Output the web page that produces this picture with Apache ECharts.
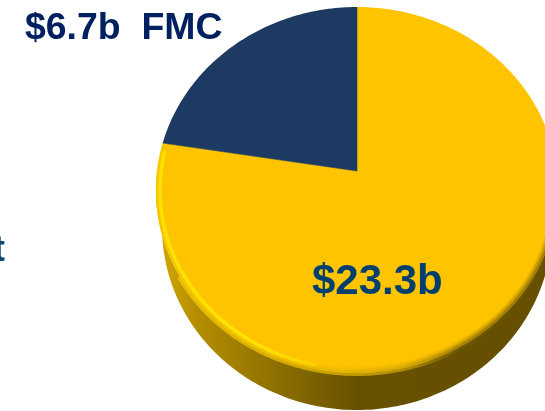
<!DOCTYPE html>
<html>
<head>
<meta charset="utf-8">
<style>
html, body { margin: 0; padding: 0; background: #fff; overflow: hidden; }
#main { width: 545px; height: 411px; }
</style>
<script src="https://cdn.jsdelivr.net/npm/echarts@6/dist/echarts.min.js"></script>
</head>
<body>
<div id="main"></div>
<script>
var categories = ['Other', 'FMC'];
var values = [23.3, 6.7];
var sliceLabels = ['$23.3b', '$6.7b  FMC'];
var clippedText = 't';

var total = values[0] + values[1];
var apex = [357, 171];
var centre = [357, 190];
var rx = 201, ry = 183, depth = 37, wallRx = 195, tilt = 0.85;

// where the ray from the off-centre apex meets the tilted rim
function rimPoint(deg, shrink) {
	var t = deg / 180 * Math.PI;
	var dx = Math.sin(t), dy = -Math.cos(t) * tilt;
	var px = apex[0] - centre[0], py = apex[1] - centre[1];
	var a = rx - shrink, b = ry - shrink;
	var A = dx * dx / (a * a) + dy * dy / (b * b);
	var B = 2 * (px * dx / (a * a) + py * dy / (b * b));
	var C = px * px / (a * a) + py * py / (b * b) - 1;
	var k = (-B + Math.sqrt(B * B - 4 * A * C)) / (2 * A);
	return [apex[0] + k * dx, apex[1] + k * dy];
}

function arcPoints(from, to, shrink) {
	var pts = [];
	for (var d = from; d < to; d += 1) {
		pts.push(rimPoint(d, shrink));
	}
	pts.push(rimPoint(to, shrink));
	return pts;
}

function hGradient(stops) {
	return new echarts.graphic.LinearGradient(156, 0, 558, 0, stops, true);
}

function bevel(from, to, shrink, width, stops, opacity) {
	return {
		type: 'polyline',
		shape: { points: arcPoints(from, to, shrink) },
		style: { fill: null, stroke: hGradient(stops), lineWidth: width, opacity: opacity }
	};
}

function renderSlice(params, api) {
	var i = params.dataIndex;
	var before = 0;
	for (var j = 0; j < i; j++) {
		before += values[j];
	}
	var from = before / total * 360;
	var to = (before + api.value(1)) / total * 360;
	var rim = arcPoints(from, to, 0);
	var children = [];

	// side wall, only the part of the rim under the middle of the disc
	var low = rim.filter(function (p) { return p[1] > centre[1]; });
	if (low.length > 1) {
		var wall = low.concat(low.slice().reverse().map(function (p) {
			return [centre[0] + (p[0] - centre[0]) * wallRx / rx, p[1] + depth];
		}));
		children.push({
			type: 'polygon',
			shape: { points: wall },
			style: {
				fill: hGradient([
					{ offset: 0, color: '#d6aa00' },
					{ offset: 0.1, color: '#b48e00' },
					{ offset: 0.35, color: '#846800' },
					{ offset: 0.5, color: '#675000' },
					{ offset: 1, color: '#665000' }
				])
			}
		});
	}

	children.push({
		type: 'polygon',
		shape: { points: [apex].concat(rim) },
		style: { fill: i === 0 ? '#ffc400' : '#1c3a62' }
	});

	if (i === 0) {
		var edge = [
			{ offset: 0, color: '#f4c800' },
			{ offset: 0.3, color: '#e8b800' },
			{ offset: 0.42, color: '#dcb000' },
			{ offset: 0.62, color: '#c09800' },
			{ offset: 0.75, color: '#705800' },
			{ offset: 1, color: '#665000' }
		];
		children.push(bevel(105, 235, -1.5, 3, edge, 0.85));
		children.push(bevel(105, 279, 1, 2.5, edge, 0.6));
		children.push(bevel(105, 279, 3, 2.5, edge, 0.35));
		children.push(bevel(105, 279, 5, 2.5, edge, 0.15));
		children.push(bevel(190, 277, 4, 3.5, [
			{ offset: 0, color: '#ffe600' },
			{ offset: 0.28, color: '#ffe800' },
			{ offset: 0.38, color: '#ffd400' },
			{ offset: 0.46, color: '#ffc400' },
			{ offset: 1, color: '#ffc400' }
		], 0.85));
		children.push({
			type: 'polyline',
			shape: { points: [rim[rim.length - 1], apex, rim[0]] },
			style: { fill: null, stroke: '#8a7a30', lineWidth: 1 }
		});
	}
	return { type: 'group', children: children };
}

var chart = echarts.init(document.getElementById('main'), null, { renderer: 'canvas' });
chart.setOption({
	animation: false,
	backgroundColor: '#ffffff',
	series: [{
		type: 'custom',
		coordinateSystem: 'none',
		renderItem: renderSlice,
		silent: true,
		data: categories.map(function (name, i) {
			return [name, values[i]];
		}),
		encode: { value: 1 }
	}],
	graphic: [
		{
			type: 'text', x: 312, y: 282, z: 10,
			style: {
				text: sliceLabels[0], fill: '#003f6e', textAlign: 'left', textVerticalAlign: 'middle',
				font: 'bold 42px "Liberation Sans", Arial, sans-serif'
			}
		},
		{
			type: 'text', x: 25, y: 29, z: 10,
			style: {
				text: sliceLabels[1], fill: '#002060', textAlign: 'left', textVerticalAlign: 'middle',
				font: 'bold 37.4px "Liberation Sans", Arial, sans-serif'
			}
		},
		{
			type: 'text', x: 5, y: 251, z: 10,
			style: {
				text: clippedText, fill: '#0a4a70', textAlign: 'right', textVerticalAlign: 'middle',
				font: 'bold 36px "Liberation Sans", Arial, sans-serif'
			}
		}
	]
});
</script>
</body>
</html>
